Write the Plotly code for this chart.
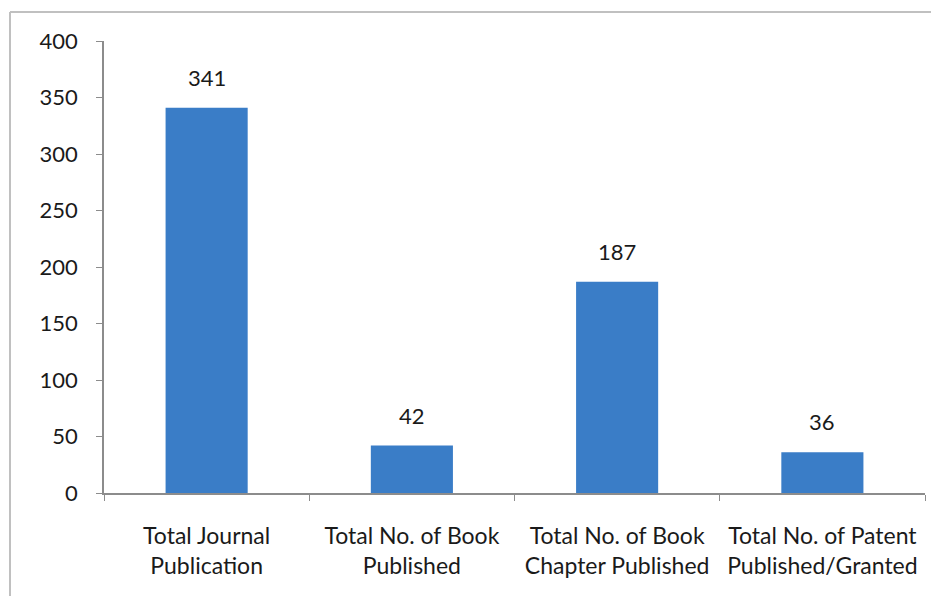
import plotly.graph_objects as go

categories = ["Total Journal<br>Publication", "Total No. of Book<br>Published",
              "Total No. of Book<br>Chapter Published", "Total No. of Patent<br>Published/Granted"]
values = [341, 42, 187, 36]
y_ticks = [0, 50, 100, 150, 200, 250, 300, 350, 400]

# page body has an 8px margin; figure sized to fit the 939x604 window
OFF = 8
W, H = 939 - OFF, 604 - 2 * OFF
L, T = 104 - OFF, 41 - OFF
R = W - (925 - OFF)
B = H - (493 - OFF)
pw, ph = W - L - R, H - T - B

def px_x(x):
    return (x - OFF - L) / pw

def px_y(y):
    return 1 - (y - OFF - T) / ph

font_family = "Lato, 'Open Sans', sans-serif"

fig = go.Figure(go.Bar(
    x=categories, y=values, marker_color="#3A7DC7", marker_line_width=0,
    hoverinfo="x+y",
))

annotations = [
    dict(x=c, y=v, xref="x", yref="y", text=str(v), showarrow=False,
         yanchor="bottom", yshift=15, font=dict(size=22, color="#1a1a1a", family=font_family))
    for c, v in zip(categories, values)
]

fig.update_layout(
    width=W, height=H, margin=dict(l=L, r=R, t=T, b=B, pad=0, autoexpand=False),
    paper_bgcolor="white", plot_bgcolor="white",
    font=dict(family=font_family, size=22, color="#1a1a1a"),
    bargap=0.6, showlegend=False,
    xaxis=dict(showline=True, linecolor="#8c8c8c", linewidth=1.5,
               ticks="outside", tickson="boundaries", ticklen=6, tickcolor="#8c8c8c",
               tickfont=dict(size=23), showgrid=False, ticklabelstandoff=22,
               tickangle=0, automargin=False),
    yaxis=dict(range=[0, 400], tickvals=y_ticks, showline=True, linecolor="#8c8c8c",
               linewidth=1.5, ticks="outside", ticklen=6, tickcolor="#8c8c8c",
               tickfont=dict(size=22), showgrid=False, zeroline=False,
               ticklabelstandoff=14, automargin=False),
    annotations=annotations,
    shapes=[
        dict(type="line", xref="paper", yref="paper", x0=px_x(10), x1=px_x(939),
             y0=px_y(12), y1=px_y(12), line=dict(color="#c0c0c0", width=2)),
        dict(type="line", xref="paper", yref="paper", x0=px_x(10), x1=px_x(10),
             y0=px_y(12), y1=px_y(604), line=dict(color="#c0c0c0", width=2)),
    ],
)

fig.write_html("out.html")
